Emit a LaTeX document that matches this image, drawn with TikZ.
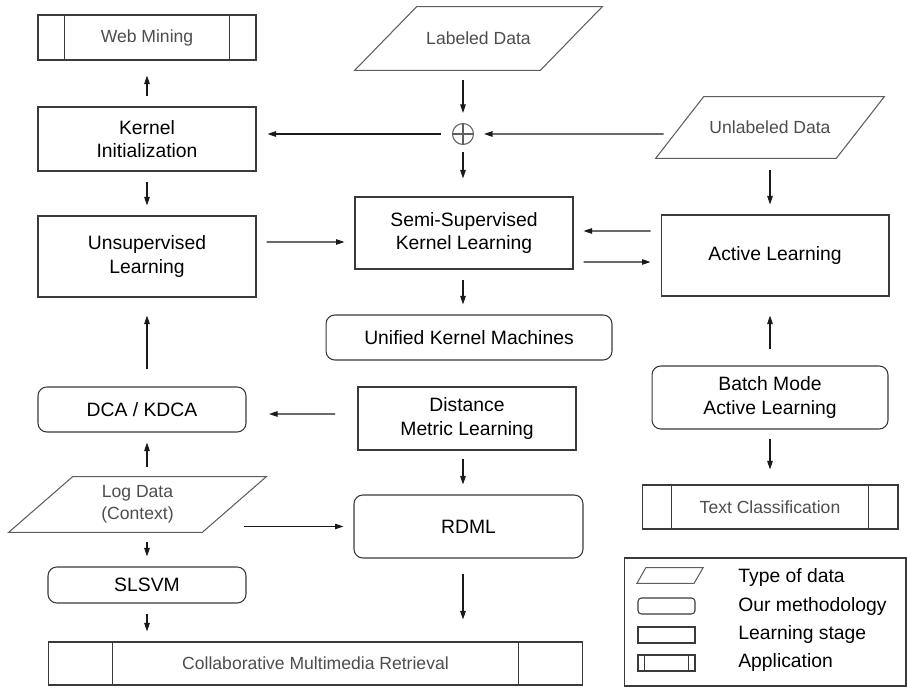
\documentclass[tikz,border=0pt]{standalone}
\usepackage{xcolor}
\usepackage{fontspec}
\setmainfont{Liberation Sans}
\usepackage{tikz}
\usetikzlibrary{arrows.meta,positioning,calc}
\definecolor{edge}{HTML}{3A3A3A}
\definecolor{softedge}{HTML}{5E5E5E}
\definecolor{greytext}{HTML}{4D4D4D}
\definecolor{ink}{HTML}{1A1A1A}
\newcommand{\boxfont}{\fontsize{11}{13.5}\selectfont}
\newcommand{\appfont}{\fontsize{10}{12.5}\selectfont}
\tikzset{
  % Learning stages
  stage/.style={draw=edge,line width=0.6pt,fill=white,align=center,inner sep=2pt,
                font=\boxfont},
  % Our methodology
  method/.style={stage,rounded corners=5pt},
  % Type of data (parallelogram, #1 = half of the slant)
  data/.style={draw=none,align=center,inner sep=0pt,font=\appfont,text=greytext,
    append after command={
      \pgfextra{
        \draw[softedge,line width=0.6pt] ([xshift=-#1]\tikzlastnode.south west)
          -- ([xshift=#1]\tikzlastnode.north west) -- ([xshift=#1]\tikzlastnode.north east)
          -- ([xshift=-#1]\tikzlastnode.south east) -- cycle;
      }
    }
  },
  % Application (#1 = width of the side bars)
  app/.style={draw=edge,line width=0.6pt,align=center,inner sep=0pt,font=\appfont,
              text=greytext,
    append after command={
      \pgfextra{
        \draw[edge,line width=0.6pt] ([xshift=#1]\tikzlastnode.north west)
          -- ([xshift=#1]\tikzlastnode.south west)
          ([xshift=-#1]\tikzlastnode.north east) -- ([xshift=-#1]\tikzlastnode.south east);
      }
    }
  },
  % Connectors & legend text
  fl/.style={-{Triangle[length=1.7mm,width=1.1mm]},ink,line width=0.6pt,
             shorten <=0.2cm,shorten >=0.2cm},
  legtxt/.style={anchor=base west,inner sep=0pt,font=\boxfont}
}

\begin{document}
\begin{tikzpicture}[x=0.02cm,y=-0.02cm]
  \useasboundingbox (0,0) rectangle (907,688);

  % --- Left column ---
  \node[app=0.54cm,minimum width=4.36cm,minimum height=0.9cm] (web) at (147,37.5) {Web Mining};
  \node[stage,minimum width=4.36cm,minimum height=1.28cm] (kinit) at (147,139) {Kernel\\Initialization};
  \node[stage,minimum width=4.36cm,minimum height=1.62cm] (unsup) at (147,256.5) {Unsupervised\\Learning};
  \node[method,minimum width=4.16cm,minimum height=0.9cm] (dca) at (142,409.5) {DCA / KDCA};
  \node[data=0.64cm,minimum width=3.86cm,minimum height=1.1cm] (log) at (137.5,504.5) {Log Data\\(Context)};
  \node[method,minimum width=3.96cm,minimum height=0.72cm] (slsvm) at (147,585) {SLSVM};
  \node[app=1.3cm,minimum width=10.7cm,minimum height=0.86cm] (cmr) at (315.5,663.5) {Collaborative Multimedia Retrieval};

  % --- Middle column ---
  \node[data=0.62cm,minimum width=3.7cm,minimum height=1.26cm] (lab) at (478.5,38.5) {Labeled Data};
  \node[circle,draw=softedge,line width=0.6pt,minimum size=0.42cm,inner sep=0pt] (sum) at (463,134) {};
  \draw[softedge,line width=0.6pt] (sum.north) -- (sum.south) (sum.west) -- (sum.east);
  \node[stage,minimum width=4.36cm,minimum height=1.44cm] (sskl) at (464,233) {Semi-Supervised\\Kernel Learning};
  \node[method,minimum width=5.72cm,minimum height=0.9cm] (ukm) at (469,337.5) {Unified Kernel Machines};
  \node[stage,minimum width=4.36cm,minimum height=1.26cm] (dml) at (467,418.5) {Distance\\Metric Learning};
  \node[method,minimum width=4.58cm,minimum height=1.26cm] (rdml) at (468.5,526.5) {RDML};

  % --- Right column ---
  \node[data=0.48cm,minimum width=3.6cm,minimum height=1.22cm] (unlab) at (770,127.5) {Unlabeled Data};
  \node[stage,minimum width=4.56cm,minimum height=1.62cm] (al) at (775,255.5) {Active Learning};
  \node[method,minimum width=4.72cm,minimum height=1.26cm] (bmal) at (770,397.5) {Batch Mode\\Active Learning};
  \node[app=0.6cm,minimum width=5.12cm,minimum height=0.88cm] (tc) at (770,507) {Text Classification};

  % --- Legend ---
  \node[draw=edge,line width=0.6pt,minimum width=5.64cm,minimum height=2.56cm,inner sep=0pt] (legend) at (765,622) {};
  \node[data=0.09cm,minimum width=1.13cm,minimum height=0.3cm] (kdata) at (670,575.5) {};
  \node[method,rounded corners=2pt,inner sep=0pt,minimum width=1.14cm,minimum height=0.32cm] (kmeth) at (666.5,606) {};
  \node[stage,inner sep=0pt,minimum width=1.14cm,minimum height=0.32cm] (kstage) at (666.5,635) {};
  \node[app=0.14cm,minimum width=1.14cm,minimum height=0.32cm] (kapp) at (666.5,663) {};
  \node[legtxt] (ltype)  at (738,583) {Type of data};
  \node[legtxt] (lmeth)  at (738,612) {Our methodology};
  \node[legtxt] (lstage) at (738,640) {Learning stage};
  \node[legtxt] (lapp)   at (738,668) {Application};

  % --- Kernel learning branch ---
  \draw[fl] (lab.south -| sum) -- (sum.north);
  \draw[fl,shorten <=0.32cm] ([yshift=-0.13cm]unlab.west) -- (sum.east);
  \draw[fl,shorten <=0.22cm,shorten >=0.22cm] (sum.west) -- (sum.west -| kinit.east);
  \draw[fl,shorten <=0.14cm,shorten >=0.36cm] (sum.south) -- (sum.south |- sskl.north);
  \draw[fl,shorten >=0.3cm] (kinit.north) -- (web.south);
  \draw[fl] (kinit.south) -- (unsup.north);
  \draw[fl] ([yshift=0.29cm]unsup.east) -- ([yshift=-0.18cm]sskl.west);
  \draw[fl] (sskl.south -| sum) -- (ukm.north -| sum);

  % --- Active learning branch ---
  \draw[fl,shorten <=0.24cm] (unlab.south) -- (unlab.south |- al.north);
  \draw[fl] ([yshift=0.49cm]al.west) -- ([yshift=0.04cm]sskl.east);
  \draw[fl] ([yshift=-0.58cm]sskl.east) -- ([yshift=-0.13cm]al.west);
  \draw[fl,shorten <=0.32cm,shorten >=0.38cm] (bmal.north) -- (bmal.north |- al.south);
  \draw[fl,shorten <=0.18cm,shorten >=0.3cm] (bmal.south) -- (tc.north);

  % --- Metric learning branch ---
  \draw[fl,shorten <=0.45cm,shorten >=0.45cm] ([yshift=0.09cm]dml.west) -- ([yshift=-0.09cm]dca.east);
  \draw[fl,shorten <=0.34cm,shorten >=0.36cm] (dca.north -| unsup) -- (unsup.south);
  \draw[fl] (log.north -| unsup) -- (dca.south -| unsup);
  \draw[fl] (log.south -| slsvm) -- (slsvm.north);
  \draw[fl] (slsvm.south) -- (slsvm.south |- cmr.north);
  \draw[fl] (log.east |- rdml.west) -- (rdml.west);
  \draw[fl,shorten <=0.16cm] (dml.south -| sum) -- (rdml.north -| sum);
  \draw[fl,shorten <=0.3cm,shorten >=0.44cm] (rdml.south -| sum) -- (cmr.north -| sum);
\end{tikzpicture}
\end{document}
